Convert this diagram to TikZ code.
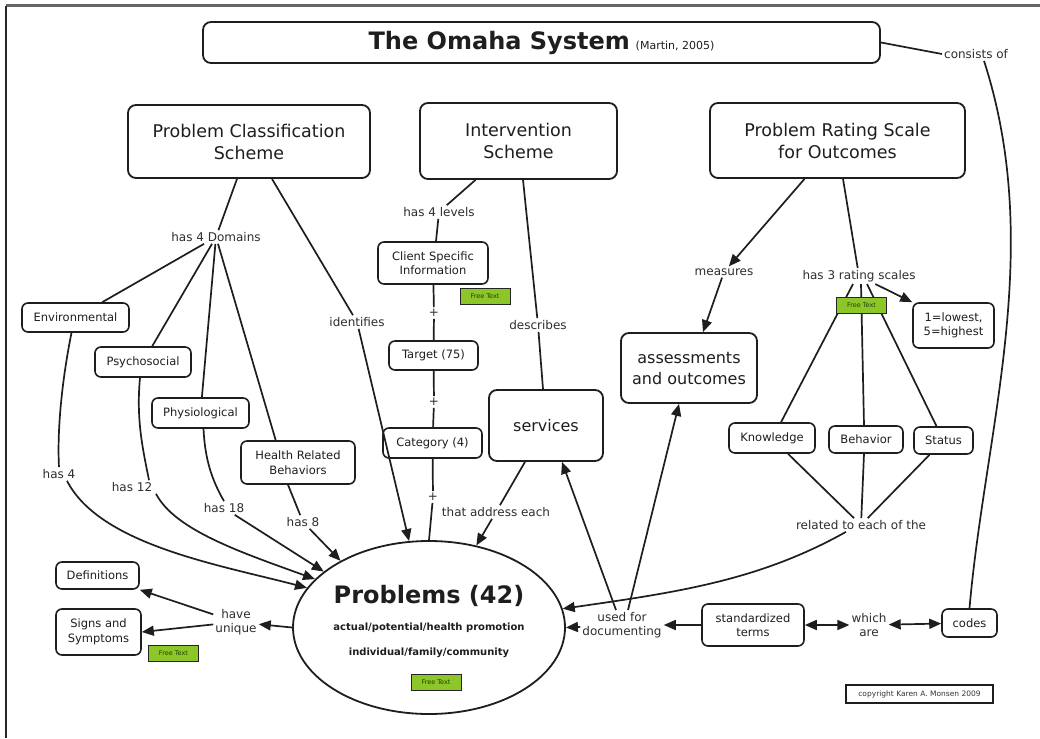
\documentclass[tikz,border=0pt]{standalone}
\usepackage{fontspec}
\setmainfont{DejaVu Sans}
\usetikzlibrary{shapes.geometric,arrows.meta,calc}
\definecolor{freegreen}{RGB}{140,198,40}
\definecolor{freetxt}{RGB}{30,70,0}
\definecolor{ink}{RGB}{30,30,30}
\begin{document}
\begin{tikzpicture}[x=1pt,y=-1pt,
  sz/.style 2 args={minimum width=#1pt,minimum height=#2pt},
  bigbox/.style={draw=ink,fill=white,line width=1.8pt,rounded corners=8pt,align=center,text=ink,font=\fontsize{17.5}{22}\selectfont,inner sep=2pt},
  midbox/.style={bigbox,font=\fontsize{16}{21}\selectfont},
  smallbox/.style={draw=ink,fill=white,line width=1.6pt,rounded corners=6pt,align=center,text=ink,font=\fontsize{11.5}{14.5}\selectfont,inner sep=2pt},
  lbl/.style={align=center,text=black!82,font=\fontsize{12}{14}\selectfont,inner sep=2pt},
  freetext/.style={draw=black!85,line width=1pt,fill=freegreen,text=freetxt,font=\fontsize{6.5}{7}\selectfont,minimum width=50pt,minimum height=16pt,inner sep=0pt},
  conn/.style={draw=ink,line width=1.7pt},
  arr/.style={conn,-{Triangle[length=12pt,width=10pt]}},
  darr/.style={conn,{Triangle[length=12pt,width=10pt]}-{Triangle[length=12pt,width=10pt]}},
]
\useasboundingbox (0,0) rectangle (1040,738);
\fill[white] (0,0) rectangle (1040,738);
\draw[line width=3pt,black!60] (6,6) -- (1040,6);
\draw[line width=2.5pt,black!85] (6,6) -- (6,738);

% main boxes
\node[bigbox,sz={677}{41}] (title) at (541.5,42.5)
  {{\fontsize{24}{28}\selectfont\bfseries The Omaha System}\,\,{\fontsize{11}{13}\selectfont (Martin, 2005)}};
\node[bigbox,sz={242}{73}] (pcs) at (249,141.5) {Problem Classification\\Scheme};
\node[bigbox,sz={197}{76}] (is) at (518.5,141) {Intervention\\Scheme};
\node[bigbox,sz={255}{75}] (prs) at (837.5,140.5) {Problem Rating Scale\\for Outcomes};

% small boxes
\node[smallbox,sz={107}{29}] (env) at (75.5,317.5) {Environmental};
\node[smallbox,sz={96}{30}] (psy) at (143,362) {Psychosocial};
\node[smallbox,sz={97}{30}] (phy) at (200.5,413) {Physiological};
\node[smallbox,sz={114}{43}] (hrb) at (298,462.5) {Health Related\\Behaviors};
\node[smallbox,sz={110}{42}] (csi) at (433,263) {Client Specific\\Information};
\node[smallbox,sz={89}{29}] (tgt) at (433.5,355.5) {Target (75)};
\node[smallbox,sz={99}{30}] (cat) at (432.5,443) {Category (4)};
\node[midbox,sz={114}{71}] (svc) at (546,425.5) {services};
\node[midbox,sz={136}{70}] (ao) at (689,368) {assessments\\and outcomes};
\node[smallbox,sz={81}{45}] (low) at (953.5,325.5) {1=lowest,\\5=highest};
\node[smallbox,sz={86}{30}] (know) at (772,438) {Knowledge};
\node[smallbox,sz={74}{27}] (beh) at (866,439.5) {Behavior};
\node[smallbox,sz={59}{27}] (stat) at (943.5,440.5) {Status};
\node[smallbox,sz={83}{27}] (defs) at (97.5,575.5) {Definitions};
\node[smallbox,sz={85}{46}] (sns) at (98.5,632) {Signs and\\Symptoms};
\node[smallbox,sz={102}{42}] (std) at (753,625) {standardized\\terms};
\node[smallbox,sz={55}{28}] (codes) at (969.5,623) {codes};
\node[draw=ink,line width=1.8pt,sz={147}{18},inner sep=0pt,text=black!80,font=\fontsize{7.5}{8}\selectfont] (copy) at (919.5,694) {copyright Karen A. Monsen 2009};

% Problems ellipse
\node[draw=ink,line width=1.8pt,ellipse,sz={272}{173},inner sep=0pt] (prob) at (429,627.5) {};
\node[text=ink,font=\fontsize{24}{28}\selectfont\bfseries,inner sep=0pt] (probt) at (429,596) {Problems (42)};
\node[text=ink,font=\fontsize{10}{12}\selectfont\bfseries,inner sep=0pt] (probs1) at (429,628) {actual/potential/health promotion};
\node[text=ink,font=\fontsize{10}{12}\selectfont\bfseries,inner sep=0pt] (probs2) at (429,653) {individual/family/community};

% labels
\node[lbl] (consists) at (976,54) {consists of};
\node[lbl] (h4d) at (216,237) {has 4 Domains};
\node[lbl] (ident) at (357,322) {identifies};
\node[lbl] (h4l) at (439,212) {has 4 levels};
\node[lbl] (plus1) at (434,313) {+};
\node[lbl] (plus2) at (434,402) {+};
\node[lbl] (plus3) at (433,497) {+};
\node[lbl] (descr) at (538,325) {describes};
\node[lbl] (tae) at (496,512) {that address each};
\node[lbl] (meas) at (724,272) {measures};
\node[lbl] (h3r) at (859,276) {has 3 rating scales};
\node[lbl] (rel) at (861,525) {related to each of the};
\node[lbl] (has4) at (59,474) {has 4};
\node[lbl] (has12) at (132,487) {has 12};
\node[lbl] (has18) at (224,508) {has 18};
\node[lbl] (has8) at (303,522) {has 8};
\node[lbl] (hu) at (236,622) {have\\unique};
\node[lbl] (ufd) at (622,625) {used for\\documenting};
\node[lbl] (wa) at (869,625) {which\\are};

% connectors
\draw[conn] (title.east) -- (consists.west);
\draw[conn] ([xshift=8pt]consists.south) .. controls (1045,250) and (985,430) .. (codes.north);

\draw[conn] ([xshift=-12pt]pcs.south) -- (h4d);
\draw[conn] (h4d) -- (env);
\draw[conn] (h4d) -- (psy);
\draw[conn] (h4d) -- (phy);
\draw[conn] (h4d) -- (hrb.135);
\draw[conn] ([xshift=23pt]pcs.south) -- (ident);
\draw[arr] (ident) -- (prob.103);

\draw[conn] ([xshift=-4pt]env.south) .. controls (62,380) and (57,430) .. (has4.north);
\draw[arr] ([xshift=8pt]has4.south) .. controls (100,545) and (220,565) .. (prob.162.5);
\draw[conn] ([xshift=-3pt]psy.south) .. controls (136,420) and (143,450) .. ([xshift=17pt]has12.north);
\draw[arr] ([xshift=24pt]has12.south) .. controls (175,530) and (240,552) .. (prob.157.6);
\draw[conn] ([xshift=3pt]phy.south) .. controls (205,460) and (212,480) .. (has18.north);
\draw[arr] (has18) -- (prob.152.4);
\draw[conn] ([xshift=-10pt]hrb.south) -- (has8);
\draw[arr] (has8) -- (prob.143.4);

\draw[arr] (prob.west) -- (hu);
\draw[arr] (hu) -- (defs.south east);
\draw[arr] (hu) -- (sns.east);

\draw[conn] ([xshift=-43pt]is.south) -- (h4l);
\draw[conn] (h4l) -- ([xshift=3pt]csi.north);
\draw[conn] (csi) -- (plus1);
\draw[conn] (plus1) -- (tgt);
\draw[conn] (tgt) -- (plus2);
\draw[conn] (plus2) -- (cat);
\draw[conn] (cat) -- (plus3);
\draw[conn] (plus3) -- (prob.north);

\draw[conn] ([xshift=4.5pt]is.south) -- (descr);
\draw[conn] (descr) -- ([xshift=-3pt]svc.north);
\draw[conn] ([xshift=-21pt]svc.south) -- (tae);
\draw[arr] (tae) -- (prob.60);

\draw[arr] ([xshift=-33pt]prs.south) -- (meas);
\draw[arr] (meas) -- ([xshift=14pt]ao.north);
\draw[conn] ([xshift=5.5pt]prs.south) -- (h3r);
\draw[arr] (h3r) -- (low.north west);
\draw[conn] ([xshift=-6pt]h3r.south) -- ([xshift=9pt]know.north);
\draw[conn] ([xshift=2pt]h3r.south) -- ([xshift=-2pt]beh.north);
\draw[conn] ([xshift=8pt]h3r.south) -- ([xshift=-7pt]stat.north);
\draw[conn] ([xshift=16pt]know.south) -- (rel);
\draw[conn] ([xshift=-2pt]beh.south) -- (rel);
\draw[conn] ([xshift=-14pt]stat.south) -- (rel);
\draw[arr] ([xshift=-15pt]rel.south) .. controls (760,580) and (680,592) .. (prob.8);

\draw[arr] (ufd) -- (prob.east);
\draw[arr] ([xshift=-6pt]ufd.north) -- ([xshift=16pt]svc.south);
\draw[arr] ([xshift=6pt]ufd.north) -- ([xshift=-10pt]ao.south);
\draw[arr] (std) -- (ufd);
\draw[darr] (std) -- (wa);
\draw[darr] (wa) -- (codes);

% free text tags
\node[freetext] (ft1) at (485,296.5) {Free Text};
\node[freetext] (ft2) at (861.5,305) {Free Text};
\node[freetext] (ft3) at (173.5,653.5) {Free Text};
\node[freetext] (ft4) at (436,682) {Free Text};
\end{tikzpicture}
\end{document}
